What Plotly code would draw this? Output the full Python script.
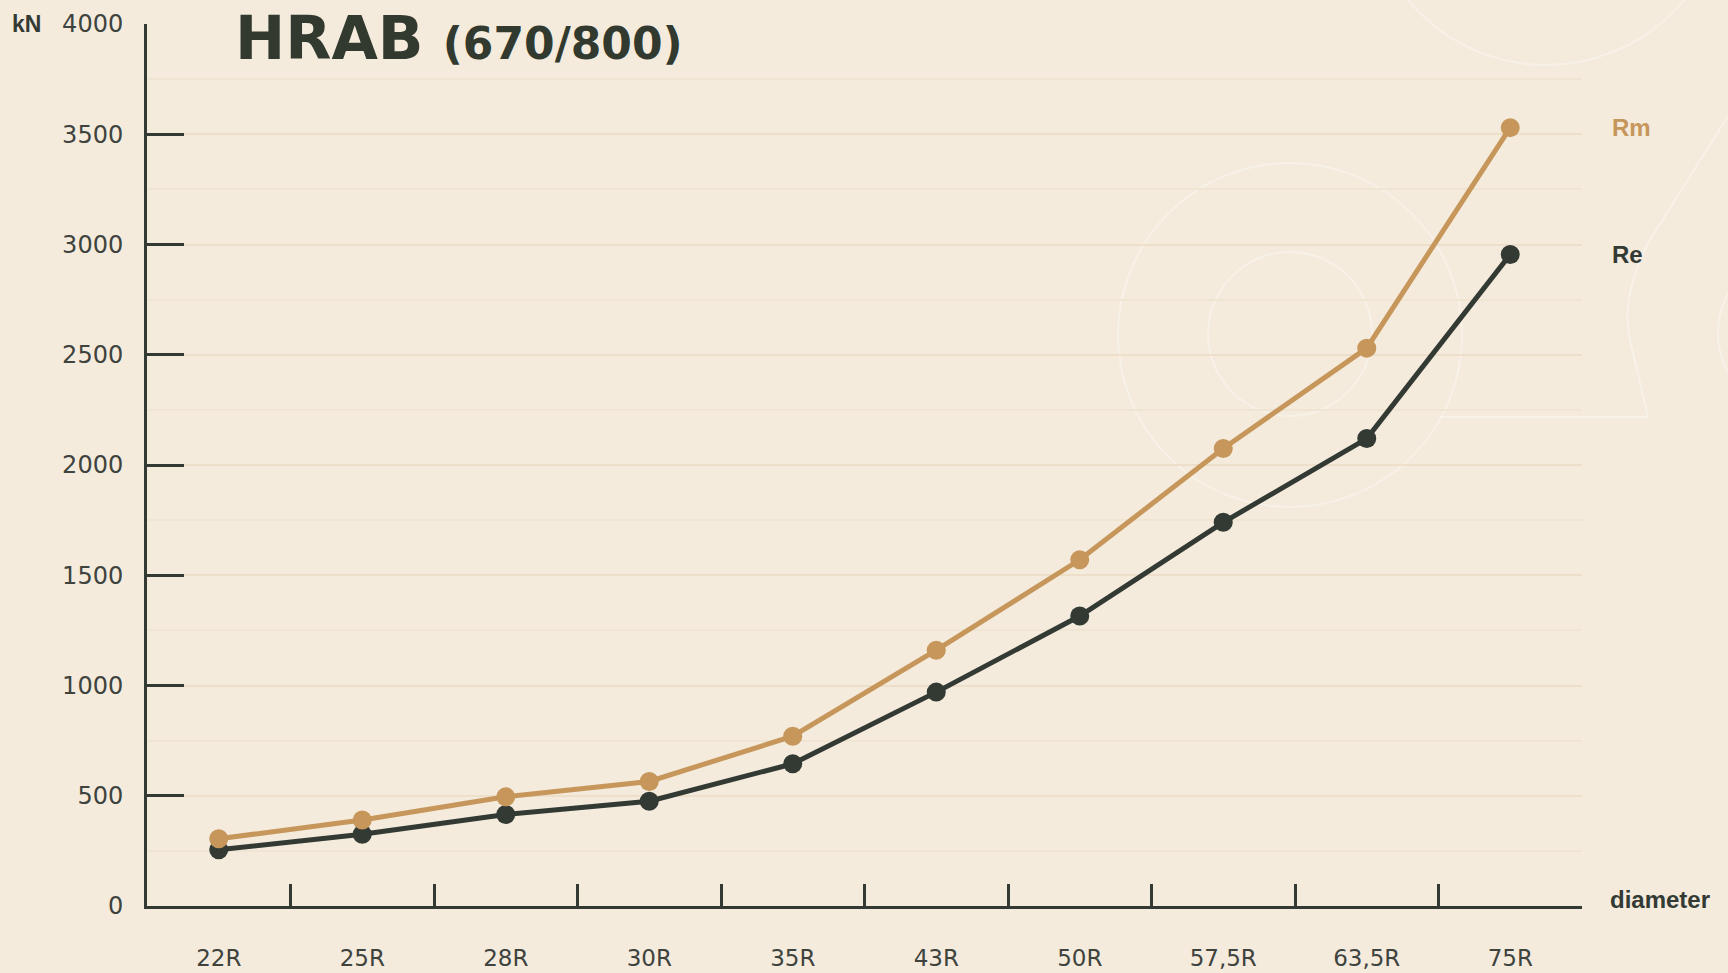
import plotly.graph_objects as go

categories = ["22R", "25R", "28R", "30R", "35R", "43R", "50R", "57,5R", "63,5R", "75R"]
rm_values = [305, 390, 495, 565, 770, 1160, 1570, 2075, 2530, 3530]
re_values = [255, 325, 415, 475, 645, 970, 1315, 1740, 2120, 2955]
y_ticks = [0, 500, 1000, 1500, 2000, 2500, 3000, 3500, 4000]

BG = "#F4EBDD"
DARK = "#333A34"
GOLD = "#C6965A"
TICKC = "#3E433E"

fig = go.Figure()
fig.add_trace(go.Scatter(x=categories, y=re_values, name="Re", mode="lines+markers",
                         line=dict(color=DARK, width=5), marker=dict(color=DARK, size=19)))
fig.add_trace(go.Scatter(x=categories, y=rm_values, name="Rm", mode="lines+markers",
                         line=dict(color=GOLD, width=5), marker=dict(color=GOLD, size=19)))

W, H = 1728, 973
ml, mr, mt, mb = 147, 146, 24, 67
pw, ph = W - ml - mr, H - mt - mb

def px(x):
    return (x - ml) / pw

def py(y):
    return 1 - (y - mt) / ph

deco = "rgba(255,255,255,0.32)"
shapes = []
def circle(cx, cy, r):
    shapes.append(dict(type="circle", xref="paper", yref="paper", layer="below",
                       x0=px(cx - r), x1=px(cx + r), y0=py(cy + r), y1=py(cy - r),
                       line=dict(color=deco, width=2)))
circle(1546, -114, 179)
circle(1290, 335, 172)
circle(1290, 334, 82)
circle(1800, 333, 82)
path = "M {},{} L {},{} Q {},{} {},{} L {},{} L {},{}".format(
    px(1730), py(113), px(1648), py(243), px(1620), py(300), px(1630), py(340),
    px(1648), py(417), px(1440), py(417))
shapes.append(dict(type="path", xref="paper", yref="paper", layer="below", path=path,
                   line=dict(color=deco, width=2)))

fig.update_layout(
    width=W, height=H,
    margin=dict(l=ml, r=mr, t=mt, b=mb, autoexpand=False),
    paper_bgcolor=BG, plot_bgcolor=BG,
    showlegend=False,
    shapes=shapes,
    font=dict(family="DejaVu Sans", color=TICKC),
    xaxis=dict(type="category", range=[-0.5, len(categories) - 0.5],
               showgrid=False, zeroline=False, automargin=False,
               showline=True, linecolor=DARK, linewidth=3,
               ticks="inside", tickson="boundaries", ticklen=22, tickwidth=3, tickcolor=DARK,
               tickfont=dict(family="DejaVu Sans", size=23, color=TICKC),
               ticklabelstandoff=29),
    yaxis=dict(range=[0, 4000], tickvals=y_ticks, ticktext=[str(v) for v in y_ticks],
               showline=True, linecolor=DARK, linewidth=3, zeroline=False, automargin=False,
               ticks="inside", ticklen=37, tickwidth=3, tickcolor=DARK,
               showgrid=True, gridcolor="#EEDFCA", gridwidth=2,
               minor=dict(dtick=250, showgrid=True, gridcolor="#F0E4D3", gridwidth=2, ticks=""),
               tickfont=dict(family="DejaVu Sans", size=24, color=TICKC),
               ticklabelstandoff=16),
)

annotations = [
    dict(text="<b>HRAB</b> <b><span style='font-size:44px'>(670/800)</span></b>",
         xref="paper", yref="paper", x=px(233), y=py(38), xanchor="left", yanchor="middle",
         showarrow=False, font=dict(family="DejaVu Sans", size=60, color="#323A2F")),
    dict(text="<b>kN</b>", xref="paper", yref="paper", x=px(10), y=py(24),
         xanchor="left", yanchor="middle", showarrow=False,
         font=dict(family="Liberation Sans", size=23, color=DARK)),
    dict(text="<b>diameter</b>", xref="paper", yref="paper", x=px(1608), y=py(899),
         xanchor="left", yanchor="middle", showarrow=False,
         font=dict(family="Liberation Sans", size=24, color=DARK)),
    dict(text="<b>Rm</b>", xref="paper", yref="y", x=px(1610), y=rm_values[-1],
         xanchor="left", yanchor="middle", showarrow=False,
         font=dict(family="Liberation Sans", size=24, color=GOLD)),
    dict(text="<b>Re</b>", xref="paper", yref="y", x=px(1610), y=re_values[-1],
         xanchor="left", yanchor="middle", showarrow=False,
         font=dict(family="Liberation Sans", size=24, color=DARK)),
]
fig.update_layout(annotations=annotations)

fig.write_html("out.html", config={"displayModeBar": False},
               post_script="document.body.style.margin='0';document.body.style.overflow='hidden';")
